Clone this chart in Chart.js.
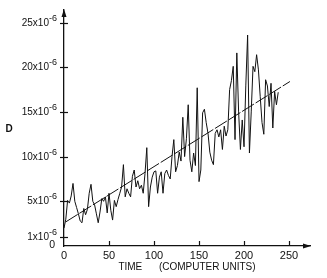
<!DOCTYPE html>
<html><head><meta charset="utf-8">
<script src="https://cdn.jsdelivr.net/npm/chart.js@4.4.1/dist/chart.umd.min.js"></script>
<style>html,body{margin:0;padding:0;background:#fff;}#wrap{width:327px;height:278px;}</style>
</head><body><div id="wrap"><canvas id="c" width="327" height="278"></canvas></div>
<script>
// time in computer units
const times = [0,2,4,6,8,10,12,14,16,18,20,22,24,26,28,30,32,34,36,38,
  40,42,44,46,48,50,52,54,56,58,60,62,64,66,68,70,72,74,76,78,
  80,82,84,86,88,90,92,94,96,98,100,102,104,106,108,110,112,114,116,118,
  120,122,124,126,128,130,132,134,136,138,140,142,144,146,148,150,152,154,156,158,
  160,162,164,166,168,170,172,174,176,178,180,182,184,186,188,190,192,194,196,198,
  200,202,204,206,208,210,212,214,216,218,220,222,224,226,228,230,232,234,236,238];
// D in units of 1e-6
const valuesE6 = [2.0,3.0,5.1,4.8,5.6,7.0,5.0,4.3,3.6,2.8,
  2.6,4.2,3.5,4.1,5.9,6.9,5.0,4.6,3.6,2.6,
  3.8,5.3,5.0,5.5,3.7,5.9,4.0,2.9,5.1,4.4,
  5.2,5.9,6.6,9.1,5.5,6.4,5.9,5.5,7.8,8.5,
  6.6,7.3,6.4,6.8,5.9,8.1,11.0,4.4,6.6,7.7,
  8.3,8.4,5.9,7.7,8.3,5.9,8.1,8.5,7.9,7.5,
  10.0,11.9,8.3,9.0,10.5,9.5,14.4,10.0,12.0,15.8,
  9.6,8.3,10.4,9.0,17.7,7.2,8.5,14.9,15.3,13.8,
  12.6,10.5,9.6,9.1,12.6,13.0,12.2,13.0,10.8,13.4,
  12.3,13.0,17.5,18.5,20.1,11.9,21.6,15.0,10.8,14.1,
  11.1,18.0,23.6,10.4,15.0,20.1,19.5,21.4,19.7,16.7,
  13.8,12.5,18.6,17.9,15.6,18.2,13.2,17.3,15.8,17.2];
const trendTimes = [2, 251];
const trendValuesE6 = [2.7, 18.4];
const xTicks = [0, 50, 100, 150, 200, 250];
const yTicks = [0, 1, 5, 10, 15, 20, 25];
const yTickExponent = '-6';
const xTitle = 'TIME      (COMPUTER UNITS)';
const yTitle = 'D';

const INK = '#111';
const FONT = '"Liberation Sans", Arial, sans-serif';

const decor = {
  id: 'decor',
  afterDraw(chart) {
    const {ctx, chartArea: a, scales: {x, y}} = chart;
    ctx.save();
    ctx.strokeStyle = INK; ctx.fillStyle = INK; ctx.lineWidth = 1.2;
    // y tick marks (crossing) and labels with superscript exponent
    y.ticks.forEach(t => {
      const py = Math.round(y.getPixelForValue(t.value)) + 0.5;
      if (t.value !== 0) {
        ctx.beginPath(); ctx.moveTo(a.left - 4, py); ctx.lineTo(a.left + 4, py); ctx.stroke();
      }
      const right = a.left - 7;
      ctx.textBaseline = 'middle';
      if (t.value === 0) {
        ctx.font = '10.5px ' + FONT; ctx.textAlign = 'right';
        ctx.fillText('0', right - 2, py - 1);
        return;
      }
      ctx.font = '9px ' + FONT; ctx.textAlign = 'right';
      const sw = ctx.measureText(yTickExponent).width;
      ctx.fillText(yTickExponent, right, py - 5);
      ctx.font = '10px ' + FONT;
      ctx.fillText(t.value + 'x10', right - sw, py);
    });
    x.ticks.forEach(t => {
      if (t.value === 0) return;
      const px = Math.round(x.getPixelForValue(t.value)) + 0.5;
      ctx.beginPath(); ctx.moveTo(px, a.bottom); ctx.lineTo(px, a.bottom - 5); ctx.stroke();
    });
    // arrows
    ctx.beginPath();
    ctx.moveTo(a.left, a.top - 1); ctx.lineTo(a.left - 2.5, a.top + 7); ctx.lineTo(a.left + 2.5, a.top + 7); ctx.closePath(); ctx.fill();
    ctx.beginPath();
    ctx.moveTo(a.right + 1, a.bottom); ctx.lineTo(a.right - 7, a.bottom - 2.5); ctx.lineTo(a.right - 7, a.bottom + 2.5); ctx.closePath(); ctx.fill();
    ctx.font = 'bold 10px ' + FONT;
    ctx.textAlign = 'center'; ctx.textBaseline = 'middle';
    ctx.fillText(yTitle, 9, 129);
    ctx.restore();
  }
};

new Chart(document.getElementById('c'), {
  type: 'line',
  data: {
    datasets: [
      {
        data: times.map((t, i) => ({x: t, y: valuesE6[i]})),
        borderColor: INK, borderWidth: 1, pointRadius: 0, tension: 0, fill: false
      },
      {
        data: trendTimes.map((t, i) => ({x: t, y: trendValuesE6[i]})),
        borderColor: INK, borderWidth: 1, borderDash: [14, 2], pointRadius: 0, tension: 0, fill: false
      }
    ]
  },
  options: {
    responsive: false, animation: false, devicePixelRatio: 1,
    layout: {padding: {left: 0, top: 10, right: 17, bottom: 0}},
    plugins: {legend: {display: false}, tooltip: {enabled: false}},
    scales: {
      x: {
        type: 'linear', min: 0, max: 273.3,
        afterBuildTicks: s => { s.ticks = xTicks.map(v => ({value: v})); },
        afterFit: s => { s.height = 32; },
        grid: {display: false, drawTicks: false},
        border: {display: true, color: INK, width: 1.3},
        ticks: {color: INK, font: {family: FONT, size: 11}, padding: 3, maxRotation: 0, autoSkip: false},
        title: {display: true, text: xTitle, color: INK, font: {family: FONT, size: 10}, padding: {top: 0, bottom: 5}}
      },
      y: {
        type: 'linear', min: 0, max: 26.4,
        afterBuildTicks: s => { s.ticks = yTicks.map(v => ({value: v})); },
        afterFit: s => { s.width = 64; },
        grid: {display: false, drawTicks: false},
        border: {display: true, color: INK, width: 1.3},
        ticks: {display: false}
      }
    }
  },
  plugins: [decor]
});
</script></body></html>
